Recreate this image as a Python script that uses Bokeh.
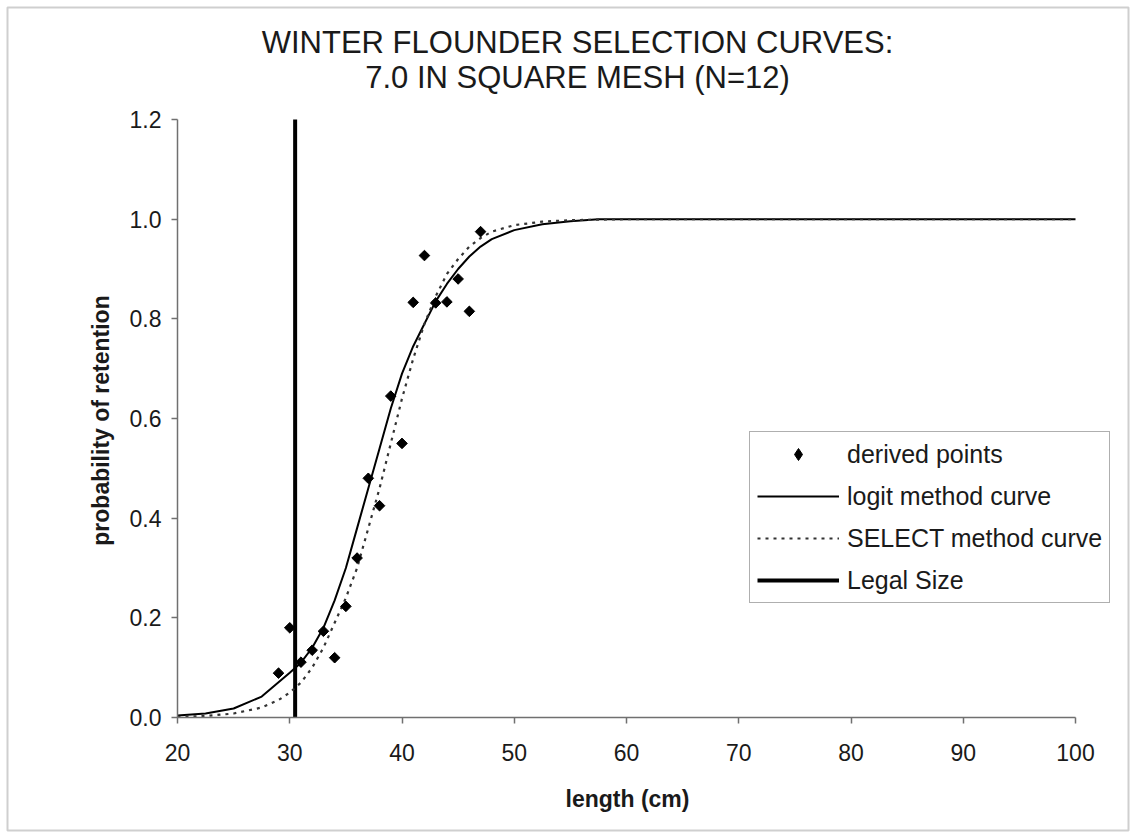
import math
from bokeh.plotting import figure
from bokeh.models import (Range1d, FixedTicker, NumeralTickFormatter, Label,
                          BoxAnnotation, Legend, LegendItem)
from bokeh.embed import file_html
from bokeh.resources import INLINE

# ---------------- data ----------------
length_pts = [29, 30, 31, 32, 33, 34, 35, 36, 37, 38, 39, 40, 41, 42, 43, 44, 45, 46, 47]
retention_pts = [0.089, 0.180, 0.111, 0.135, 0.173, 0.120, 0.223, 0.320, 0.480, 0.425,
                 0.645, 0.550, 0.833, 0.927, 0.832, 0.834, 0.880, 0.815, 0.975]

logit_x = [20, 22.5, 25, 27.5, 30, 31, 32, 33, 34, 35, 36, 37, 38, 39, 40, 41, 42, 43,
           44, 45, 46, 47, 48, 50, 52.5, 55, 57.5, 60, 70, 80, 90, 100]
logit_y = [0.004, 0.008, 0.018, 0.042, 0.090, 0.110, 0.140, 0.180, 0.235, 0.300, 0.380,
           0.460, 0.540, 0.620, 0.690, 0.745, 0.790, 0.835, 0.870, 0.900, 0.925, 0.945,
           0.960, 0.978, 0.990, 0.996, 1.000, 1.000, 1.000, 1.000, 1.000, 1.000]

select_x = [20, 22.5, 25, 27.5, 29, 30, 31, 32, 33, 34, 35, 36, 37, 38, 39, 40, 41, 42,
            43, 44, 45, 46, 47, 48, 50, 52.5, 55, 60, 70, 80, 90, 100]
select_y = [0.001, 0.003, 0.008, 0.020, 0.035, 0.050, 0.070, 0.100, 0.140, 0.190, 0.240,
            0.300, 0.380, 0.460, 0.550, 0.640, 0.720, 0.790, 0.845, 0.890, 0.920, 0.945,
            0.962, 0.975, 0.988, 0.995, 0.998, 1.000, 1.000, 1.000, 1.000, 1.000]

legal_x = [30.48, 30.48]
legal_y = [0.0, 1.2]

x_ticks = [20, 30, 40, 50, 60, 70, 80, 90, 100]
y_ticks = [0.0, 0.2, 0.4, 0.6, 0.8, 1.0, 1.2]

title_lines = ["WINTER FLOUNDER SELECTION CURVES:", "7.0 IN SQUARE MESH (N=12)"]
x_title = "length (cm)"
y_title = "probability of retention"
legend_labels = ["derived points", "logit method curve", "SELECT method curve", "Legal Size"]

# ---------------- layout ----------------
W, H = 1133, 833
FL, FR, FT, FB = 177, 1075, 119, 717   # pixel box of the axes area
X0, X1, Y0, Y1 = 20, 100, 0.0, 1.2
FONT = "Liberation Sans"

def px2x(px):
    return X0 + (px - FL) * (X1 - X0) / (FR - FL)

def py2y(py):
    return Y0 + (FB - py) * (Y1 - Y0) / (FB - FT)

# the frame covers the whole canvas; the axes sit at fixed data locations
p = figure(width=W, height=H,
           x_range=Range1d(px2x(0), px2x(W)), y_range=Range1d(py2y(H), py2y(0)),
           output_backend="svg", toolbar_location=None,
           min_border_left=0, min_border_right=0, min_border_top=0, min_border_bottom=0)
p.outline_line_color = None
p.xgrid.visible = False
p.ygrid.visible = False
p.background_fill_color = "white"
p.border_fill_color = "white"

p.xaxis.fixed_location = Y0
p.yaxis.fixed_location = X0
p.xaxis.bounds = (X0, X1)
p.yaxis.bounds = (Y0, Y1)

for ax in (p.xaxis[0], p.yaxis[0]):
    ax.axis_line_color = "#707070"
    ax.axis_line_width = 1.5
    ax.major_tick_line_color = "#707070"
    ax.major_tick_line_width = 1.5
    ax.major_tick_in = 0
    ax.major_tick_out = 6
    ax.minor_tick_line_color = None
    ax.major_label_text_font = FONT
    ax.major_label_text_font_size = "23px"
    ax.major_label_text_color = "#1a1a1a"

p.xaxis.ticker = FixedTicker(ticks=x_ticks)
p.yaxis.ticker = FixedTicker(ticks=y_ticks)
p.yaxis.formatter = NumeralTickFormatter(format="0.0")
p.xaxis.major_label_standoff = 20
p.yaxis.major_label_standoff = 10

# ---------------- marks ----------------
r_legal = p.line(legal_x, legal_y, line_color="black", line_width=4)
r_logit = p.line(logit_x, logit_y, line_color="black", line_width=2)
r_select = p.line(select_x, select_y, line_color="#333333", line_width=2.2, line_dash="3 5")
# diamond swatch for the legend (hidden underneath the rotated squares)
r_pts_key = p.scatter(length_pts, retention_pts, marker="diamond", size=9,
                      fill_color="black", line_color="black")
r_pts = p.scatter(length_pts, retention_pts, marker="square", angle=45, angle_units="deg",
                  size=7.5, fill_color="black", line_color="black")

legend = Legend(items=[LegendItem(label=legend_labels[0], renderers=[r_pts_key]),
                       LegendItem(label=legend_labels[1], renderers=[r_logit]),
                       LegendItem(label=legend_labels[2], renderers=[r_select]),
                       LegendItem(label=legend_labels[3], renderers=[r_legal])],
                location=(749, H - 603))
legend.label_text_font = FONT
legend.label_text_font_size = "25px"
legend.label_text_color = "#1a1a1a"
legend.glyph_width = 82
legend.glyph_height = 30
legend.label_height = 30
legend.label_standoff = 8
legend.spacing = 12
legend.padding = 7
legend.margin = 0
legend.border_line_color = "#606060"
legend.border_line_width = 1.5
legend.background_fill_color = "white"
legend.background_fill_alpha = 1.0
p.add_layout(legend)

# ---------------- texts ----------------
for txt, py in zip(title_lines, [42, 77]):
    p.add_layout(Label(x=px2x(577), y=py2y(py), text=txt, text_align="center",
                       text_baseline="middle", text_font=FONT, text_font_size="31px",
                       text_color="#1a1a1a"))

p.add_layout(Label(x=px2x(627), y=py2y(798), text=x_title, text_align="center",
                   text_baseline="middle", text_font=FONT, text_font_size="23px",
                   text_font_style="bold", text_color="#1a1a1a"))

p.add_layout(Label(x=px2x(100), y=py2y(420), text=y_title, angle=90, angle_units="deg",
                   text_align="center", text_baseline="middle", text_font=FONT,
                   text_font_size="23px", text_font_style="bold", text_color="#1a1a1a"))

# outer chart border
p.add_layout(BoxAnnotation(left=px2x(7), right=px2x(1128), top=py2y(7), bottom=py2y(830),
                           fill_alpha=0, line_color="#606060", line_width=2))

open("out.html", "w").write(file_html(p, INLINE))
